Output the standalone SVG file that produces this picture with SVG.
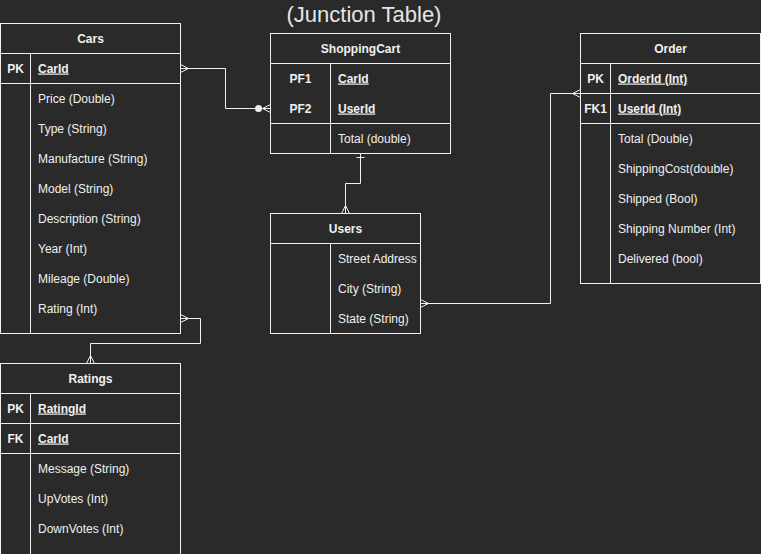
<svg xmlns="http://www.w3.org/2000/svg" width="761" height="554" viewBox="0 0 761 554">
<style>
.box{fill:#2a2a2a;stroke:#f0f0f0;stroke-width:1}
.ln{fill:none;stroke:#f0f0f0;stroke-width:1}
.t{font-family:"Liberation Sans",Arial,sans-serif;font-size:12px;fill:#f0f0f0}
.h{font-weight:bold;text-anchor:middle}
.k{font-weight:bold;text-anchor:middle}
.u{font-weight:bold;text-decoration:underline}
.c{fill:none;stroke:#f0f0f0;stroke-width:1}
</style>
<rect x="0" y="0" width="761" height="554" fill="#2a2a2a"/>
<text x="364" y="21.5" font-family="'Liberation Sans',Arial,sans-serif" font-size="22" fill="#e6e6e6" text-anchor="middle">(Junction Table)</text>

<g id="cars">
<rect class="box" x="0.5" y="23.5" width="180" height="310"/>
<path class="ln" d="M0.5,53.5H180.5M0.5,83.5H180.5M30.5,53.5V333.5"/>
<text class="t h" x="90.5" y="42.5">Cars</text>
<text class="t k" x="15.5" y="72.5">PK</text>
<text class="t u" x="38" y="72.5">CarId</text>
<text class="t" x="38" y="102.5">Price (Double)</text>
<text class="t" x="38" y="132.5">Type (String)</text>
<text class="t" x="38" y="162.5">Manufacture (String)</text>
<text class="t" x="38" y="192.5">Model (String)</text>
<text class="t" x="38" y="222.5">Description (String)</text>
<text class="t" x="38" y="252.5">Year (Int)</text>
<text class="t" x="38" y="282.5">Mileage (Double)</text>
<text class="t" x="38" y="312.5">Rating (Int)</text>
</g>

<g id="shoppingcart">
<rect class="box" x="270.5" y="33.5" width="180" height="120"/>
<path class="ln" d="M270.5,63.5H450.5M270.5,123.5H450.5M330.5,63.5V153.5"/>
<text class="t h" x="360.5" y="52.5">ShoppingCart</text>
<text class="t k" x="300.5" y="82.5">PF1</text>
<text class="t k" x="300.5" y="112.5">PF2</text>
<text class="t u" x="338" y="82.5">CarId</text>
<text class="t u" x="338" y="112.5">UserId</text>
<text class="t" x="338" y="142.5">Total (double)</text>
</g>

<g id="users">
<rect class="box" x="270.5" y="213.5" width="150" height="120"/>
<path class="ln" d="M270.5,243.5H420.5M330.5,243.5V333.5"/>
<text class="t h" x="345.5" y="232.5">Users</text>
<text class="t" x="338" y="262.5">Street Address</text>
<text class="t" x="338" y="292.5">City (String)</text>
<text class="t" x="338" y="322.5">State (String)</text>
</g>

<g id="order">
<rect class="box" x="580.5" y="33.5" width="180" height="250"/>
<path class="ln" d="M580.5,63.5H760.5M580.5,93.5H760.5M580.5,123.5H760.5M610.5,63.5V283.5"/>
<text class="t h" x="670.5" y="52.5">Order</text>
<text class="t k" x="595.5" y="82.5">PK</text>
<text class="t k" x="595.5" y="112.5">FK1</text>
<text class="t u" x="618" y="82.5">OrderId (Int)</text>
<text class="t u" x="618" y="112.5">UserId (Int)</text>
<text class="t" x="618" y="142.5">Total (Double)</text>
<text class="t" x="618" y="172.5">ShippingCost(double)</text>
<text class="t" x="618" y="202.5">Shipped (Bool)</text>
<text class="t" x="618" y="232.5">Shipping Number (Int)</text>
<text class="t" x="618" y="262.5">Delivered (bool)</text>
</g>

<g id="ratings">
<rect class="box" x="0.5" y="363.5" width="180" height="210"/>
<path class="ln" d="M0.5,393.5H180.5M0.5,423.5H180.5M0.5,453.5H180.5M30.5,393.5V573.5"/>
<text class="t h" x="90.5" y="382.5">Ratings</text>
<text class="t k" x="15.5" y="412.5">PK</text>
<text class="t k" x="15.5" y="442.5">FK</text>
<text class="t u" x="38" y="412.5">RatingId</text>
<text class="t u" x="38" y="442.5">CarId</text>
<text class="t" x="38" y="472.5">Message (String)</text>
<text class="t" x="38" y="502.5">UpVotes (Int)</text>
<text class="t" x="38" y="532.5">DownVotes (Int)</text>
</g>

<g id="connectors">
<path class="c" d="M180.5,68.5H225.5V108.5H270.5"/>
<path class="c" d="M180.5,64.5L188.5,68.5L180.5,72.5"/>
<circle cx="258.5" cy="108.5" r="3.5" fill="#f0f0f0"/>
<path class="c" d="M270.5,104.5L262.5,108.5L270.5,112.5"/>

<path class="c" d="M360.5,153.5V183.5H345.5V213.5"/>
<path class="c" d="M356.5,157.5H364.5"/>
<path class="c" d="M341.5,213.5L345.5,205.5L349.5,213.5"/>

<path class="c" d="M420.5,303.5H550.5V93.5H580.5"/>
<path class="c" d="M420.5,299.5L428.5,303.5L420.5,307.5"/>
<path class="c" d="M580.5,89.5L572.5,93.5L580.5,97.5"/>

<path class="c" d="M180.5,318.5H200.5V343.5H90.5V363.5"/>
<path class="c" d="M180.5,314.5L188.5,318.5L180.5,322.5"/>
<path class="c" d="M86.5,363.5L90.5,355.5L94.5,363.5"/>
</g>
</svg>
